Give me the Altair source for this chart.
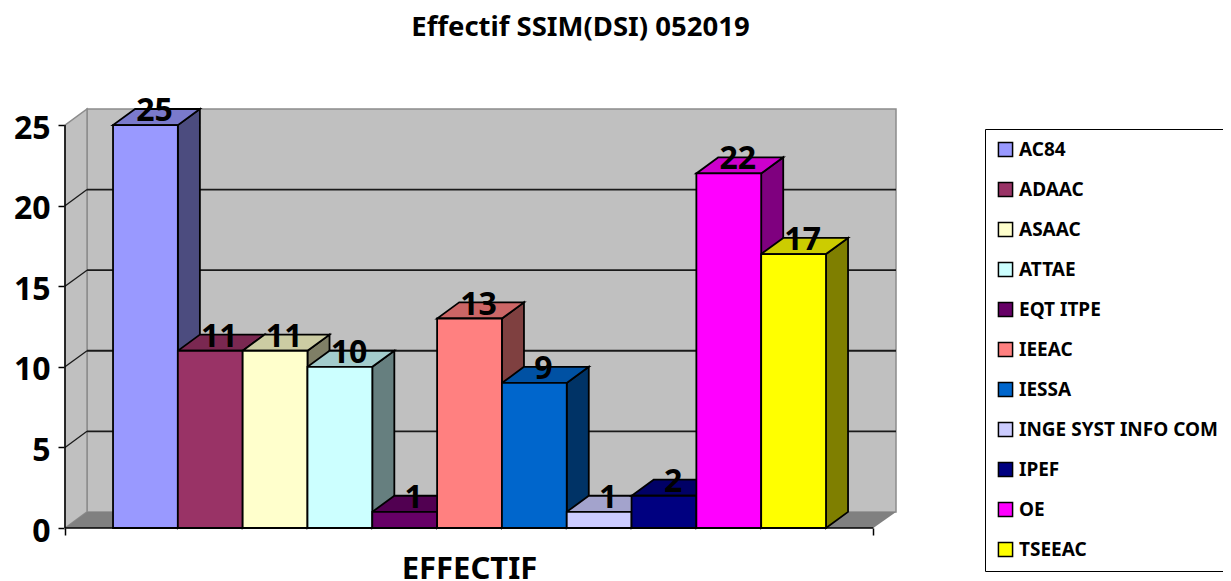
import altair as alt
import pandas as pd

categories = ["AC84", "ADAAC", "ASAAC", "ATTAE", "EQT ITPE", "IEEAC", "IESSA",
              "INGE SYST INFO COM", "IPEF", "OE", "TSEEAC"]
values = [25, 11, 11, 10, 1, 13, 9, 1, 2, 22, 17]
colors = ["#9999FF", "#993366", "#FFFFCC", "#CCFFFF", "#660066", "#FF8080",
          "#0066CC", "#CCCCFF", "#000080", "#FF00FF", "#FFFF00"]
y_ticks = [0, 5, 10, 15, 20, 25]
title_text = "Effectif SSIM(DSI) 052019"
x_title = "EFFECTIF"

FONT = "Noto Sans"
X_MIN, X_FRONT, X_MAX = -0.741, 11.73, 12.08
DX, DY = 0.34, 1.0
Y_MAX = 26.0
EDGE = 1.8


def shade(hex_color, factor):
    r, g, b = (int(hex_color[i:i + 2], 16) for i in (1, 3, 5))
    return "#%02x%02x%02x" % (int(r * factor), int(g * factor), int(b * factor))


fronts = pd.DataFrame({"cat": categories, "v": values, "i": range(len(values))})
fronts["i2"] = fronts["i"] + 1
fronts["zero"] = 0
fronts["lx"] = fronts["i"] + 0.64

sides, tops = [], []
for i, (c, v, col) in enumerate(zip(categories, values, colors)):
    sides.append(dict(b=i, x=i + 1, lo=0, hi=v, fill=shade(col, 0.5)))
    sides.append(dict(b=i, x=i + 1 + DX, lo=DY, hi=v + DY, fill=shade(col, 0.5)))
    tops.append(dict(b=i, y=v, xl=i, xr=i + 1, fill=shade(col, 0.8)))
    tops.append(dict(b=i, y=v + DY, xl=i + DX, xr=i + 1 + DX, fill=shade(col, 0.8)))
sides = pd.DataFrame(sides)
tops = pd.DataFrame(tops)

xs = alt.Scale(domain=[X_MIN, X_MAX], nice=False, zero=False)
ys = alt.Scale(domain=[0, Y_MAX], nice=False, zero=False)
x_axis = alt.Axis(
    values=[X_MIN, X_FRONT], labels=False, domain=False, grid=False, tickColor="#000000",
    tickSize=7, tickWidth=1.5, titleFont=FONT, titleFontSize=31, titleFontWeight="bold",
    titleColor="#000000", titleX=404, titleY=26)
y_axis = alt.Axis(
    values=y_ticks, domain=False, grid=False, tickColor="#000000", tickSize=7, tickWidth=1.5,
    labelFont=FONT, labelFontSize=32, labelFontWeight="bold", labelColor="#000000",
    labelPadding=8, labelOffset=3, format="d")
X = lambda f: alt.X(f, type="quantitative", scale=xs, axis=x_axis, title=x_title)
Y = lambda f: alt.Y(f, type="quantitative", scale=ys, axis=y_axis, title=None)

# walls and floor
back = alt.Chart(pd.DataFrame({"x": [X_MIN + DX], "x2": [X_MAX], "y": [DY], "y2": [Y_MAX]})).mark_rect(
    fill="#c0c0c0", stroke="#8c8c8c", strokeWidth=1.5
).encode(x=X("x"), x2="x2", y=Y("y"), y2="y2")
left_wall = alt.Chart(pd.DataFrame({"x": [X_MIN, X_MIN + DX], "lo": [0, DY], "hi": [25, 25 + DY]})).mark_area(
    fill="#c0c0c0", stroke="#8c8c8c", strokeWidth=1.5
).encode(x=X("x"), y=Y("lo"), y2="hi")
floor = alt.Chart(pd.DataFrame({"y": [0, DY], "xl": [X_MIN, X_MIN + DX], "xr": [X_FRONT, X_MAX]})).mark_area(
    orient="horizontal", fill="#808080"
).encode(y=Y("y"), x=X("xl"), x2="xr")

# gridlines
grid_vals = [t for t in y_ticks if 0 < t < 25]
grid = alt.Chart(pd.DataFrame({"y": [t + DY for t in grid_vals], "x": X_MIN + DX, "x2": X_MAX})).mark_rule(
    color="#1a1a1a", strokeWidth=EDGE
).encode(x=X("x"), x2="x2", y=Y("y"))
diag_rows = []
for t in grid_vals:
    diag_rows += [dict(t=t, x=X_MIN, y=t), dict(t=t, x=X_MIN + DX, y=t + DY)]
diag = alt.Chart(pd.DataFrame(diag_rows)).mark_line(color="#1a1a1a", strokeWidth=1.3).encode(
    x=X("x"), y=Y("y"), detail="t:N"
)

# bars
side_layer = alt.Chart(sides).mark_area(stroke="#000000", strokeWidth=EDGE).encode(
    x=X("x"), y=Y("lo"), y2="hi", fill=alt.Fill("fill:N", scale=None), detail="b:N"
)
top_layer = alt.Chart(tops).mark_area(orient="horizontal", stroke="#000000", strokeWidth=EDGE).encode(
    y=Y("y"), x=X("xl"), x2="xr", fill=alt.Fill("fill:N", scale=None), detail="b:N"
)
front_layer = alt.Chart(fronts).mark_rect(stroke="#000000", strokeWidth=EDGE).encode(
    x=X("i"), x2="i2", y=Y("zero"), y2="v",
    color=alt.Color("cat:N", scale=alt.Scale(domain=categories, range=colors), legend=alt.Legend(
        title=None, orient="none", legendX=920, legendY=20, padding=11,
        strokeColor="#000000", fillColor="#ffffff",
        symbolType="square", symbolSize=200, symbolStrokeColor="#000000", symbolStrokeWidth=1.5,
        labelFont=FONT, labelFontSize=19, labelFontWeight="bold", labelColor="#000000",
        labelLimit=400, rowPadding=19, labelOffset=4,
    )),
)

labels = alt.Chart(fronts).mark_text(
    font=FONT, fontSize=32, fontWeight="bold", color="#000000", baseline="alphabetic", dy=-4
).encode(x=X("lx"), y=Y("v"), text="v:Q")

axis_y = alt.Chart(pd.DataFrame({"x": [X_MIN], "a": [0], "b": [25]})).mark_rule(
    color="#000000", strokeWidth=1.5
).encode(x=X("x"), y=Y("a"), y2="b")
axis_x = alt.Chart(pd.DataFrame({"x": [X_MIN], "x2": [X_FRONT], "y": [0]})).mark_rule(
    color="#000000", strokeWidth=1.5
).encode(x=X("x"), x2="x2", y=Y("y"))

chart = alt.layer(
    back, left_wall, floor, grid, diag, side_layer, top_layer, front_layer, axis_y, axis_x, labels
).properties(
    width=831, height=419,
    padding={"left": 57, "top": 101, "right": 327, "bottom": 53},
    autosize=alt.AutoSizeParams(type="none"),
    background="#ffffff",
    title=alt.TitleParams(title_text, font=FONT, fontSize=27.5, fontWeight="bold", color="#000000",
                          anchor="middle", dx=100, offset=54),
).configure_view(stroke=None, strokeWidth=0)

chart.save("out.html", embed_options={"renderer": "svg", "actions": False})
